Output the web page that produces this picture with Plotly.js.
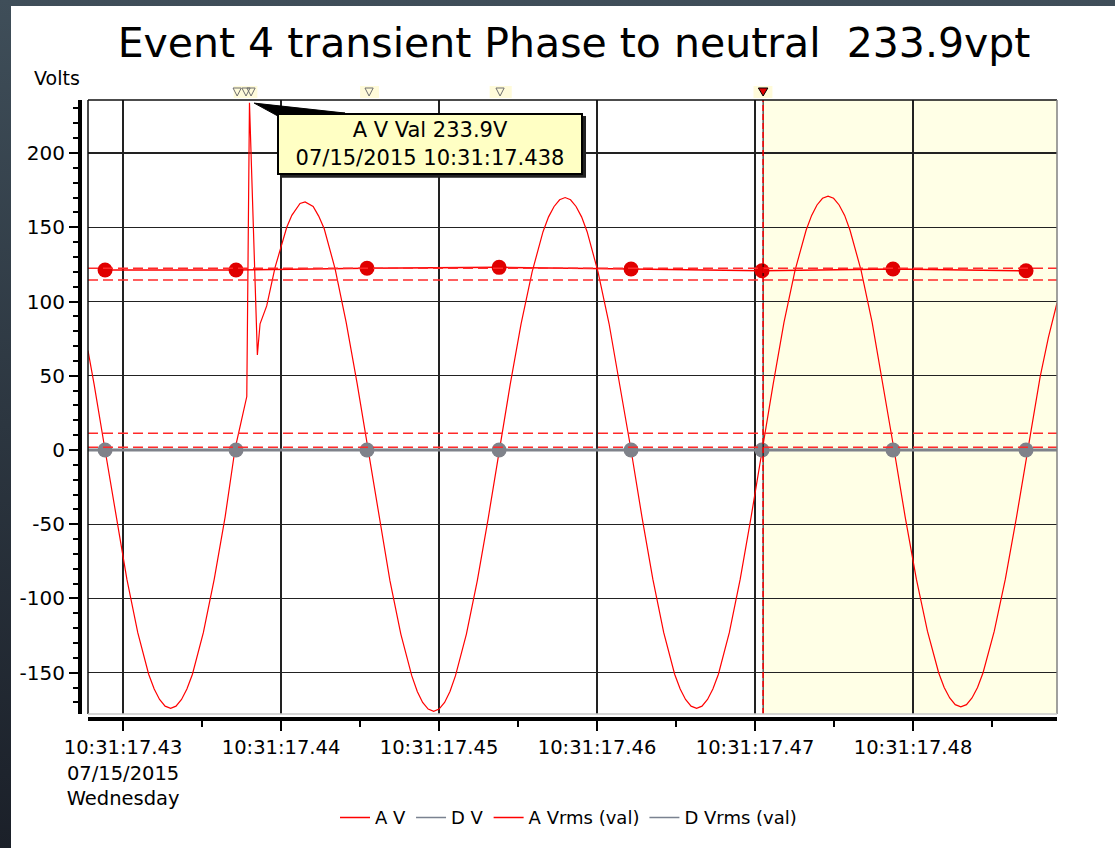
<!DOCTYPE html>
<html>
<head>
<meta charset="utf-8">
<script src="https://cdn.plot.ly/plotly-3.0.1.min.js"></script>
<style>
  html, body { margin: 0; padding: 0; width: 1115px; height: 848px; overflow: hidden;
    background: linear-gradient(to bottom, #3f4e59 0%, #2c3640 50%, #1b2029 100%); }
  #chart { position: absolute; left: 11px; top: 6px; width: 1104px; height: 842px; background: #fff; }
</style>
</head>
<body>
<div id="chart"></div>
<script>
// ---- data (time in ms after 10:31:17.000) ----
const A_V_time = [
  427.78, 428.17, 428.86, 429.55, 430.24, 430.93, 431.62, 431.97, 432.31, 432.66, 433.01, 433.35, 433.70, 434.04, 434.39, 435.08, 435.77, 436.46,
  437.09, 437.45, 437.83, 438.00, 438.50, 438.67, 439.09, 439.62, 440.04, 440.36, 440.68, 441.20, 441.52,
  442.03, 442.38, 442.73, 443.42, 444.12, 444.81, 445.51,
  446.20, 446.89, 447.58, 448.27, 448.62, 448.96, 449.31, 449.66, 450.00, 450.35, 450.69, 451.04, 451.73, 452.42, 453.11, 453.80,
  454.50, 455.19, 455.89, 456.58, 456.93, 457.28, 457.63, 457.98, 458.32, 458.67, 459.02, 459.37, 460.06, 460.76, 461.45, 462.15,
  462.84, 463.53, 464.22, 464.91, 465.26, 465.60, 465.95, 466.30, 466.64, 466.99, 467.33, 467.68, 468.37, 469.06, 469.75, 470.44,
  471.14, 471.83, 472.53, 473.23, 473.58, 473.92, 474.27, 474.62, 474.97, 475.32, 475.67, 476.01, 476.71, 477.41, 478.10, 478.80,
  479.50, 480.21, 480.91, 481.62, 481.97, 482.32, 482.67, 483.02, 483.38, 483.73, 484.08, 484.43, 485.14, 485.84, 486.55, 487.25,
  488.04, 488.57, 489.11
];
const A_V = [
  67, 44, 0, -45, -87, -123, -151, -161, -168, -172.5, -174, -172.5, -168, -161, -151, -123, -87, -45,
  1, 18, 36, 233.9, 64, 85, 97, 123, 139, 150, 158, 166, 167,
  164, 157.5, 149, 122, 86, 45, 0,
  -46, -88, -124, -152, -162.6, -170, -174.5, -176, -174.5, -170, -162.6, -152, -124, -88, -46, 0,
  44, 85, 120, 147, 157, 164, 168.5, 170, 168.5, 164, 157, 147, 120, 85, 44, 0,
  -45, -87, -123, -151, -161, -168, -172.5, -174, -172.5, -168, -161, -151, -123, -87, -45, 0,
  44, 86, 121, 148, 158, 165, 169.5, 171, 169.5, 165, 158, 148, 121, 86, 44, 0,
  -45, -87, -122, -150, -160, -167, -171.5, -173, -171.5, -167, -160, -150, -122, -87, -45, 0,
  49, 76, 99
];
const D_V_time = [427.78, 489.11];
const D_V = [0, 0];
const Vrms_time = [428.86, 437.15, 445.44, 453.80, 462.15, 470.44, 478.73, 487.15];
const A_Vrms = [121.2, 121.2, 122.4, 123.0, 121.9, 120.7, 121.9, 120.7];
const D_Vrms = [0, 0, 0, 0, 0, 0, 0, 0];
const limitLevels = [122.4, 114.5, 11.2, 1.8];
const eventMarkTimes = [437.22, 437.78, 438.10, 445.57, 453.86];
const cursorTime = 470.51;
const peakTime = 438.00, peakValue = 233.9;
const xTickVals = [430, 440, 450, 460, 470, 480];
const xTickText = ['10:31:17.43<br>07/15/2015<br>Wednesday', '10:31:17.44', '10:31:17.45',
                   '10:31:17.46', '10:31:17.47', '10:31:17.48'];
const yTickVals = [-150, -100, -50, 0, 50, 100, 150, 200];
const yTickText = ['-150', '-100', '-50', '0', '50', '100', '150', '200'];
const xRange = [427.78, 489.11];
const yRange = [-177.8, 235.7];

const FONT = 'DejaVu Sans, Arial, sans-serif';
const RED = '#ff0000';
const GRAY = '#7f828a';
const PH = 619; // paper height in px (for small pixel offsets above the plot)

const traces = [
  {x: D_V_time, y: D_V, mode: 'lines', line: {color: GRAY, width: 3}, showlegend: false, hoverinfo: 'skip'},
  {x: A_V_time, y: A_V, mode: 'lines', line: {color: RED, width: 1.2}, showlegend: false},
  {x: Vrms_time, y: A_Vrms, mode: 'lines+markers', line: {color: RED, width: 1.5},
   marker: {color: '#e00000', size: 15}, showlegend: false},
  {x: Vrms_time, y: D_Vrms, mode: 'lines+markers', line: {color: GRAY, width: 2},
   marker: {color: GRAY, size: 15}, showlegend: false},
  // legend entries
  {x: [null], y: [null], mode: 'lines', name: 'A V', line: {color: RED, width: 1.5}},
  {x: [null], y: [null], mode: 'lines', name: 'D V', line: {color: '#7a8290', width: 1.5}},
  {x: [null], y: [null], mode: 'lines', name: 'A Vrms (val)', line: {color: RED, width: 1.5}},
  {x: [null], y: [null], mode: 'lines', name: 'D Vrms (val)', line: {color: '#7a8290', width: 1.5}}
];

function triPath(t, halfW) {
  return `M ${t - halfW},${1 + 12 / PH} L ${t + halfW},${1 + 12 / PH} L ${t},${1 + 4 / PH} Z`;
}

const shapes = [
  // shaded region after cursor
  {type: 'rect', xref: 'x', yref: 'y domain', x0: cursorTime, x1: xRange[1], y0: 0, y1: 1,
   fillcolor: '#ffffe6', line: {width: 0}, layer: 'below'},
  // glow behind event marks
  ...[[437.0, 438.5], [445.0, 446.2], [453.2, 454.6], [469.9, 471.1]].map(r => ({
    type: 'rect', xref: 'x', yref: 'paper', x0: r[0], x1: r[1], y0: 1.0 + 2 / PH, y1: 1.0 + 14 / PH,
    fillcolor: 'rgba(255,250,205,0.75)', line: {width: 0}, layer: 'below'})),
  // event marks (open gray triangles)
  ...eventMarkTimes.map(t => ({type: 'path', xref: 'x', yref: 'paper', path: triPath(t, 0.26),
    fillcolor: 'rgba(255,255,255,0)', line: {color: '#6e6e6e', width: 1}, layer: 'above'})),
  // cursor mark (filled red triangle)
  {type: 'path', xref: 'x', yref: 'paper', path: triPath(cursorTime, 0.3),
   fillcolor: '#e00000', line: {color: '#000', width: 1}, layer: 'above'},
  // limit lines
  ...limitLevels.map(v => ({type: 'line', xref: 'x domain', yref: 'y', x0: 0, x1: 1, y0: v, y1: v,
    line: {color: '#ff2a2a', width: 1.5, dash: '10px,5px'}, layer: 'above'})),
  // cursor line
  {type: 'line', xref: 'x', yref: 'y domain', x0: cursorTime, x1: cursorTime, y0: 0, y1: 1,
   line: {color: '#000', width: 1}, layer: 'above'},
  {type: 'line', xref: 'x', yref: 'y domain', x0: cursorTime, x1: cursorTime, y0: 0, y1: 1,
   line: {color: '#ff0000', width: 1.5, dash: '6px,3px'}, layer: 'above'},
  // plot frame
  {type: 'line', xref: 'x domain', yref: 'y domain', x0: 0, x1: 1, y0: 1, y1: 1, line: {color: '#111', width: 1.5}},
  {type: 'line', xref: 'x domain', yref: 'y domain', x0: 0, x1: 0, y0: 0, y1: 1, line: {color: '#111', width: 1.5}},
  {type: 'line', xref: 'x domain', yref: 'y domain', x0: 1, x1: 1, y0: 0, y1: 1, line: {color: '#808080', width: 1.5}},
  {type: 'line', xref: 'x domain', yref: 'y domain', x0: 0, x1: 1, y0: 0, y1: 0, line: {color: '#c8c8c8', width: 1.5}},
  // tooltip pointer wedge and shadow
  {type: 'path', xref: 'x', yref: 'y',
   path: `M ${peakTime + 0.3},${peakValue - 0.3} L ${peakTime + 6.05},${peakValue - 7} L ${peakTime + 1.8},${peakValue - 9} Z`,
   fillcolor: '#000', line: {color: '#000', width: 1}, layer: 'above'},
  {type: 'rect', xref: 'x', yref: 'y', x0: 439.94, x1: 459.30, y0: 183.3, y1: 224.9,
   fillcolor: '#222', line: {width: 0}, layer: 'above'}
];

const annotations = [
  {xref: 'x', yref: 'y', x: 449.43, y: 206.4, showarrow: false,
   text: 'A V Val 233.9V<br>07/15/2015 10:31:17.438',
   font: {family: FONT, size: 21, color: '#000'}, bgcolor: '#ffffc4', bordercolor: '#000',
   borderwidth: 2, borderpad: 2, width: 298, height: 54},
  {xref: 'paper', yref: 'paper', x: -0.024, y: 1.0355, showarrow: false, text: 'Volts',
   font: {family: FONT, size: 19, color: '#000'}, xanchor: 'center', yanchor: 'middle'}
];

const layout = {
  width: 1104, height: 842,
  margin: {l: 69, r: 58, t: 94, b: 129},
  paper_bgcolor: '#ffffff', plot_bgcolor: '#ffffff',
  font: {family: FONT, size: 20, color: '#000'},
  title: {text: 'Event 4 transient Phase to neutral  233.9vpt', font: {family: FONT, size: 41, color: '#000'},
          xref: 'container', x: 0.51, xanchor: 'center', yref: 'container', y: 0.957, yanchor: 'middle'},
  xaxis: {range: xRange, domain: [8 / 977, 1], anchor: 'free', position: 0,
          tickmode: 'array', tickvals: xTickVals, ticktext: xTickText,
          ticks: 'outside', ticklen: 10, tickwidth: 2, tickcolor: '#000',
          showline: true, linewidth: 4, linecolor: '#000',
          showgrid: true, gridcolor: '#222', gridwidth: 1.2, zeroline: false,
          minor: {tickmode: 'linear', tick0: 435, dtick: 10, ticks: 'outside', ticklen: 6, tickwidth: 2, tickcolor: '#000', showgrid: false},
          tickfont: {family: FONT, size: 19.5, color: '#000'}, fixedrange: true},
  yaxis: {range: yRange, domain: [5 / PH, 1], anchor: 'free', position: 0,
          tickmode: 'array', tickvals: yTickVals, ticktext: yTickText,
          ticks: 'outside', ticklen: 9, tickwidth: 2, tickcolor: '#000',
          showline: true, linewidth: 4, linecolor: '#000',
          showgrid: true, gridcolor: '#222', gridwidth: 1.2, zeroline: false,
          minor: {tickmode: 'linear', tick0: 0, dtick: 10, ticks: 'outside', ticklen: 5, tickwidth: 2, tickcolor: '#000', showgrid: false},
          tickfont: {family: FONT, size: 20, color: '#000'}, fixedrange: true},
  showlegend: true,
  legend: {orientation: 'h', xref: 'paper', x: 0.5, xanchor: 'center', yref: 'container', y: 0.036, yanchor: 'middle',
           font: {family: FONT, size: 18, color: '#000'}, itemwidth: 30, tracegroupgap: 0, bgcolor: 'rgba(0,0,0,0)'},
  shapes: shapes,
  annotations: annotations
};

Plotly.newPlot('chart', traces, layout, {staticPlot: true, displayModeBar: false});
</script>
</body>
</html>
